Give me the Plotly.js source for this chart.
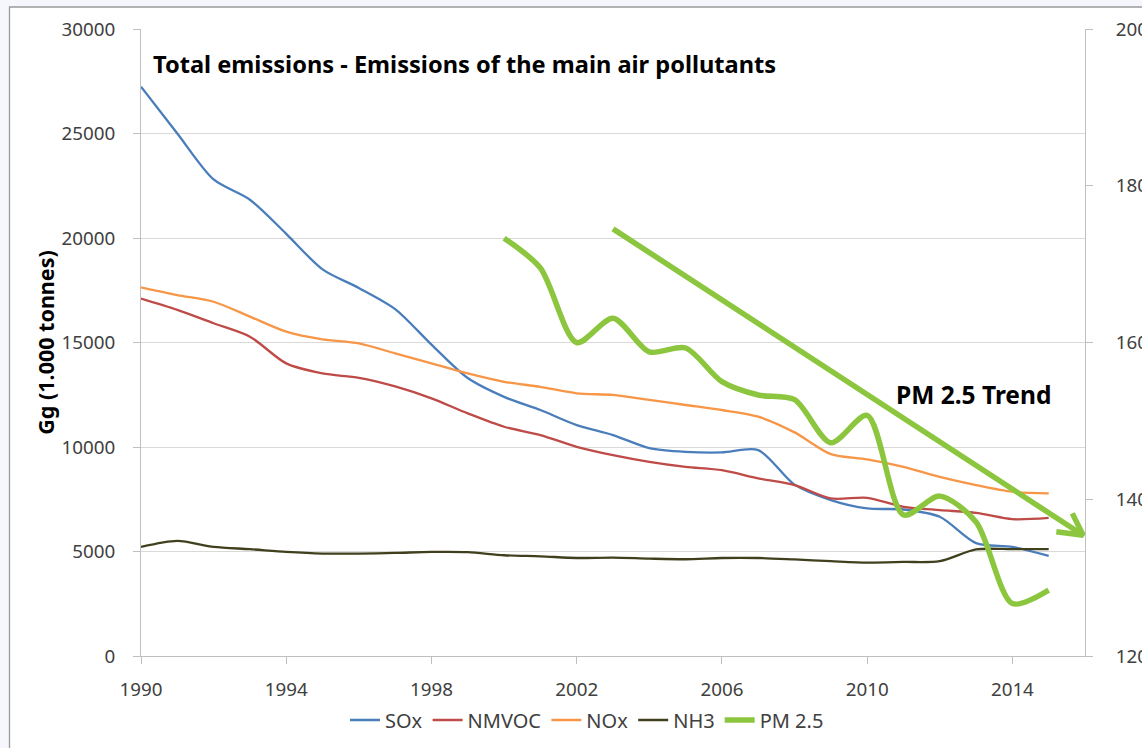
<!DOCTYPE html>
<html>
<head>
<meta charset="utf-8">
<script src="https://cdn.plot.ly/plotly-3.0.1.min.js"></script>
<style>
  html, body { margin: 0; padding: 0; background: #f6f7fc; }
  #chart { width: 1142px; height: 748px; }
</style>
</head>
<body>
<div id="chart"></div>
<script>
// ---- Data ----
const years = [1990,1991,1992,1993,1994,1995,1996,1997,1998,1999,2000,2001,2002,2003,2004,2005,2006,2007,2008,2009,2010,2011,2012,2013,2014,2015];

const sox   = [27240,25000,22800,21830,20200,18500,17610,16600,14900,13300,12400,11770,11050,10570,9950,9770,9740,9850,8200,7460,7060,7010,6660,5400,5220,4790];
const nmvoc = [17100,16560,15920,15280,14000,13520,13310,12900,12330,11610,10970,10570,10010,9610,9290,9050,8890,8500,8180,7540,7570,7140,6980,6850,6550,6610];
const nox   = [17640,17270,16950,16240,15520,15150,14960,14480,14000,13520,13120,12880,12570,12490,12250,12010,11770,11450,10700,9660,9410,9050,8570,8180,7860,7780];
const nh3   = [5220,5510,5220,5110,4980,4900,4900,4930,4980,4970,4820,4770,4690,4710,4660,4630,4690,4690,4620,4540,4470,4500,4540,5100,5110,5110];

const pmYears = [2000,2001,2002,2003,2004,2005,2006,2007,2008,2009,2010,2011,2012,2013,2014,2015];
const pm25    = [1733,1695,1600,1631,1588,1593,1550,1533,1527,1472,1507,1380,1404,1371,1267,1284];

// hand-drawn PM 2.5 trend arrow (in x-year / right-axis units)
const trendX = [2003.0, 2015.95];
const trendY = [1745, 1354];
const arrowHeadX = [2015.21, 2015.95, 2015.65];
const arrowHeadY = [1358.4, 1354, 1382];

const seriesNames = ['SOx','NMVOC','NOx','NH3','PM 2.5'];
const xTicks = [1990,1994,1998,2002,2006,2010,2014];

// ---- Styling ----
const FONT = 'Noto Sans, Open Sans, sans-serif';
const TXT = '#404040';
const TICK = 18.8;

const traces = [
  {x: years, y: sox,   name: seriesNames[0], type: 'scatter', mode: 'lines',
   line: {color: '#4a7ebb', width: 2.3, shape: 'spline', smoothing: 0.8}},
  {x: years, y: nmvoc, name: seriesNames[1], type: 'scatter', mode: 'lines',
   line: {color: '#be4b48', width: 2.3, shape: 'spline', smoothing: 0.8}},
  {x: years, y: nox,   name: seriesNames[2], type: 'scatter', mode: 'lines',
   line: {color: '#f79646', width: 2.3, shape: 'spline', smoothing: 0.8}},
  {x: years, y: nh3,   name: seriesNames[3], type: 'scatter', mode: 'lines',
   line: {color: '#40401f', width: 2.3, shape: 'spline', smoothing: 0.8}},
  {x: pmYears, y: pm25, name: seriesNames[4], type: 'scatter', mode: 'lines', yaxis: 'y2',
   line: {color: '#8cc63f', width: 5.5, shape: 'spline', smoothing: 0.8}},
  {x: trendX, y: trendY, type: 'scatter', mode: 'lines', yaxis: 'y2', showlegend: false,
   hoverinfo: 'skip', line: {color: '#8cc63f', width: 5.5}},
  {x: arrowHeadX, y: arrowHeadY, type: 'scatter', mode: 'lines', yaxis: 'y2', showlegend: false,
   hoverinfo: 'skip', line: {color: '#8cc63f', width: 5.5}}
];

// pixel helpers for paper-referenced decorations
const L = 141, R = 57, T = 29, B = 92, W = 1142, H = 748;
const pw = W - L - R, ph = H - T - B;
const px = v => (v - L) / pw;
const py = v => (H - B - v) / ph;

const layout = {
  width: W, height: H,
  margin: {l: L, r: R, t: T, b: B, pad: 0, autoexpand: false},
  paper_bgcolor: '#f6f7fc',
  plot_bgcolor: 'rgba(0,0,0,0)',
  font: {family: FONT, size: TICK, color: TXT},
  showlegend: true,
  legend: {orientation: 'h', x: px(587), y: py(720), xanchor: 'center', yanchor: 'middle',
           font: {family: FONT, size: 20, color: TXT}, bgcolor: 'rgba(0,0,0,0)', traceorder: 'normal'},
  xaxis: {
    range: [1990, 2016], tickmode: 'array', tickvals: xTicks, ticktext: xTicks.map(String),
    showgrid: false, zeroline: false, showline: true, linecolor: '#bfbfbf', linewidth: 1,
    ticks: 'outside', ticklen: 7, tickcolor: '#bfbfbf', ticklabelstandoff: 9,
    tickfont: {family: FONT, size: TICK, color: TXT}, fixedrange: true, automargin: false
  },
  yaxis: {
    range: [0, 30000], dtick: 5000, tick0: 0, showgrid: true, gridcolor: '#d9d9d9', gridwidth: 1,
    zeroline: false, showline: true, linecolor: '#bfbfbf', linewidth: 1,
    ticks: 'outside', ticklen: 7, tickcolor: '#bfbfbf', ticklabelstandoff: 14,
    tickfont: {family: FONT, size: TICK, color: TXT}, tickformat: 'd',
    title: {text: '<b>Gg (1.000 tonnes)</b>', font: {family: FONT, size: 21.5, color: '#000'}, standoff: 0},
    fixedrange: true, automargin: false
  },
  yaxis2: {
    range: [1200, 2000], dtick: 200, tick0: 1200, overlaying: 'y', side: 'right',
    showgrid: false, zeroline: false, showline: true, linecolor: '#bfbfbf', linewidth: 1,
    ticks: 'outside', ticklen: 7, tickcolor: '#bfbfbf', ticklabelstandoff: 19,
    tickfont: {family: FONT, size: TICK, color: TXT}, tickformat: 'd', fixedrange: true, automargin: false
  },
  shapes: [
    {type: 'rect', xref: 'paper', yref: 'paper', x0: px(9.5), x1: px(1160), y0: py(7), y1: py(760),
     line: {color: '#9a9a9a', width: 1.3}, fillcolor: '#ffffff', layer: 'below'}
  ],
  annotations: [
    {xref: 'paper', yref: 'paper', x: px(151), y: py(64), xanchor: 'left', yanchor: 'middle',
     text: '<b>Total emissions - Emissions of the main air pollutants</b>', showarrow: false,
     font: {family: FONT, size: 23.6, color: '#000'}},
    {xref: 'paper', yref: 'paper', x: px(973), y: py(394), xanchor: 'center', yanchor: 'middle',
     text: '<b>PM 2.5 Trend</b>', showarrow: false,
     font: {family: FONT, size: 24.5, color: '#000'}}
  ]
};

Plotly.newPlot('chart', traces, layout, {displayModeBar: false, staticPlot: true});
</script>
</body>
</html>
